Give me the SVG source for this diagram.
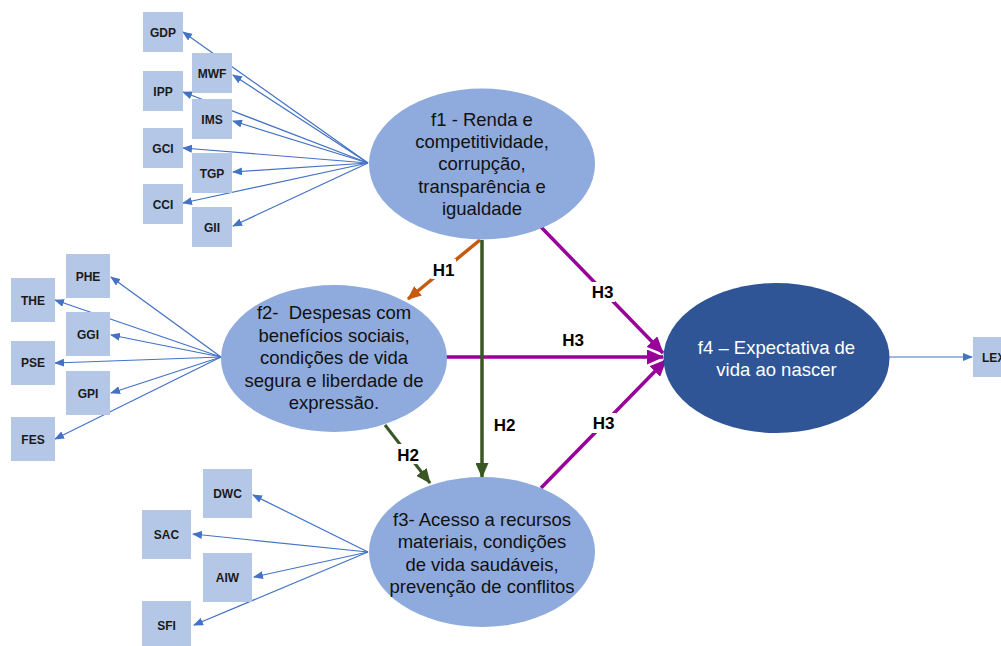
<svg xmlns="http://www.w3.org/2000/svg" width="1001" height="646" viewBox="0 0 1001 646">
  <style>
    .ind rect { fill: #B4C7E7; }
    .ind text { font-family: "Liberation Sans", Arial, sans-serif; font-size: 12px; font-weight: bold; fill: #1a1a1a; text-anchor: middle; }
    .lat ellipse { fill: #8FAADC; }
    .lat text { font-family: "Liberation Sans", Arial, sans-serif; font-size: 18.5px; fill: #111; text-anchor: middle; }
    #f4 ellipse { fill: #2F5597; }
    #f4 text { fill: #ffffff; }
    .load { stroke: #4472C4; stroke-width: 1.2; fill: none; marker-end: url(#ab); }
    .hyp { font-family: "Liberation Sans", Arial, sans-serif; font-size: 17px; font-weight: bold; fill: #000; text-anchor: middle; }
    .lbg { fill: #ffffff; }
  </style>
  <defs>
    <marker id="ab" markerUnits="userSpaceOnUse" markerWidth="10" markerHeight="8" refX="9" refY="4" orient="auto">
      <path d="M0,0 L10,4 L0,8 Z" fill="#4472C4"/>
    </marker>
    <marker id="ao" markerUnits="userSpaceOnUse" markerWidth="14" markerHeight="12" refX="13" refY="6" orient="auto">
      <path d="M0,0 L14,6 L0,12 Z" fill="#C55A11"/>
    </marker>
    <marker id="ag" markerUnits="userSpaceOnUse" markerWidth="15" markerHeight="13" refX="14" refY="6.5" orient="auto">
      <path d="M0,0 L15,6.5 L0,13 Z" fill="#385723"/>
    </marker>
    <marker id="am" markerUnits="userSpaceOnUse" markerWidth="17" markerHeight="15" refX="16" refY="7.5" orient="auto">
      <path d="M0,0 L17,7.5 L0,15 Z" fill="#990099"/>
    </marker>
  </defs>

  <!-- connectors -->
  <g id="connectors">
    <!-- f1 indicators -->
    <line class="load" x1="368" y1="163" x2="183" y2="32"/>
    <line class="load" x1="368" y1="163" x2="233" y2="75"/>
    <line class="load" x1="368" y1="163" x2="183" y2="92"/>
    <line class="load" x1="368" y1="163" x2="233" y2="121"/>
    <line class="load" x1="368" y1="163" x2="183" y2="148"/>
    <line class="load" x1="368" y1="163" x2="233" y2="172"/>
    <line class="load" x1="368" y1="163" x2="183" y2="203"/>
    <line class="load" x1="368" y1="163" x2="233" y2="226"/>
    <!-- f2 indicators -->
    <line class="load" x1="221" y1="357" x2="111" y2="277"/>
    <line class="load" x1="221" y1="357" x2="55" y2="300"/>
    <line class="load" x1="221" y1="357" x2="111" y2="335"/>
    <line class="load" x1="221" y1="357" x2="55" y2="363"/>
    <line class="load" x1="221" y1="357" x2="111" y2="393"/>
    <line class="load" x1="221" y1="357" x2="55" y2="439"/>
    <!-- f3 indicators -->
    <line class="load" x1="368" y1="552" x2="253" y2="495"/>
    <line class="load" x1="368" y1="552" x2="193" y2="534"/>
    <line class="load" x1="368" y1="552" x2="254" y2="577"/>
    <line class="load" x1="368" y1="552" x2="194" y2="625"/>
    <!-- f4 indicator -->
    <line class="load" x1="889" y1="357" x2="972" y2="357"/>

    <!-- structural paths -->
    <line x1="541" y1="227" x2="663" y2="353" stroke="#990099" stroke-width="3.5" marker-end="url(#am)"/>
    <line x1="446" y1="357" x2="663" y2="357" stroke="#990099" stroke-width="3.5" marker-end="url(#am)"/>
    <line x1="541" y1="488" x2="666" y2="360" stroke="#990099" stroke-width="3.5" marker-end="url(#am)"/>
    <line x1="480" y1="240" x2="408" y2="299" stroke="#C55A11" stroke-width="3.5" marker-end="url(#ao)"/>
    <line x1="482" y1="240" x2="482" y2="477" stroke="#385723" stroke-width="3.5" marker-end="url(#ag)"/>
    <line x1="385" y1="425" x2="430" y2="483" stroke="#385723" stroke-width="3" marker-end="url(#ag)"/>

    <!-- path labels -->
    <rect class="lbg" x="431" y="259" width="25" height="20"/>
    <text class="hyp" x="443.5" y="275.5">H1</text>
    <rect class="lbg" x="396" y="444" width="25" height="20"/>
    <text class="hyp" x="408" y="460.5">H2</text>
    <text class="hyp" x="504.5" y="430.5">H2</text>
    <rect class="lbg" x="590" y="282" width="25" height="20"/>
    <text class="hyp" x="602.5" y="298">H3</text>
    <text class="hyp" x="573" y="346">H3</text>
    <rect class="lbg" x="591" y="413" width="25" height="20"/>
    <text class="hyp" x="603.5" y="429">H3</text>
  </g>

  <!-- latent factors -->
  <g id="f1" class="lat">
    <ellipse cx="482" cy="164" rx="113" ry="75.5"/>
    <text x="482" y="125.5">f1 - Renda e</text>
    <text x="482" y="147.5">competitividade,</text>
    <text x="482" y="170">corrupção,</text>
    <text x="482" y="192.5">transparência e</text>
    <text x="482" y="214.5">igualdade</text>
  </g>
  <g id="f2" class="lat">
    <ellipse cx="334" cy="358.5" rx="113" ry="73.5"/>
    <text x="334" y="319" xml:space="preserve">f2-  Despesas com</text>
    <text x="334" y="341.5">benefícios sociais,</text>
    <text x="334" y="364">condições de vida</text>
    <text x="334" y="386.5">segura e liberdade de</text>
    <text x="334" y="408.5">expressão.</text>
  </g>
  <g id="f3" class="lat">
    <ellipse cx="482" cy="552" rx="113" ry="75"/>
    <text x="482" y="525.5">f3- Acesso a recursos</text>
    <text x="482" y="548">materiais, condições</text>
    <text x="482" y="570.5">de vida saudáveis,</text>
    <text x="482" y="593">prevenção de conflitos</text>
  </g>
  <g id="f4" class="lat">
    <ellipse cx="776.5" cy="358" rx="113" ry="75"/>
    <text x="776.5" y="353.5">f4 – Expectativa de</text>
    <text x="776.5" y="375.5">vida ao nascer</text>
  </g>

  <!-- f1 indicators -->
  <g id="GDP" class="ind"><rect x="143" y="12" width="40" height="40"/><text x="163" y="36.5">GDP</text></g>
  <g id="MWF" class="ind"><rect x="192" y="53" width="40" height="40"/><text x="212" y="77.5">MWF</text></g>
  <g id="IPP" class="ind"><rect x="143" y="71" width="40" height="40"/><text x="163" y="95.5">IPP</text></g>
  <g id="IMS" class="ind"><rect x="192" y="99" width="40" height="40"/><text x="212" y="123.5">IMS</text></g>
  <g id="GCI" class="ind"><rect x="143" y="128" width="40" height="40"/><text x="163" y="152.5">GCI</text></g>
  <g id="TGP" class="ind"><rect x="192" y="153" width="40" height="40"/><text x="212" y="177.5">TGP</text></g>
  <g id="CCI" class="ind"><rect x="143" y="184" width="40" height="40"/><text x="163" y="208.5">CCI</text></g>
  <g id="GII" class="ind"><rect x="192" y="207" width="40" height="40"/><text x="212" y="231.5">GII</text></g>

  <!-- f2 indicators -->
  <g id="PHE" class="ind"><rect x="66" y="254" width="44" height="44"/><text x="88" y="280.5">PHE</text></g>
  <g id="THE" class="ind"><rect x="11" y="278" width="44" height="44"/><text x="33" y="304.5">THE</text></g>
  <g id="GGI" class="ind"><rect x="66" y="312" width="44" height="44"/><text x="88" y="338.5">GGI</text></g>
  <g id="PSE" class="ind"><rect x="11" y="341" width="44" height="44"/><text x="33" y="367">PSE</text></g>
  <g id="GPI" class="ind"><rect x="66" y="371" width="44" height="44"/><text x="88" y="397.5">GPI</text></g>
  <g id="FES" class="ind"><rect x="11" y="417" width="44" height="44"/><text x="33" y="443.5">FES</text></g>

  <!-- f3 indicators -->
  <g id="DWC" class="ind"><rect x="203" y="469" width="49" height="49"/><text x="227.5" y="498">DWC</text></g>
  <g id="SAC" class="ind"><rect x="142" y="510" width="49" height="49"/><text x="166.5" y="538.5">SAC</text></g>
  <g id="AIW" class="ind"><rect x="203" y="553" width="49" height="49"/><text x="227.5" y="581.5">AIW</text></g>
  <g id="SFI" class="ind"><rect x="142" y="601" width="49" height="49"/><text x="166.5" y="629.5">SFI</text></g>

  <!-- f4 indicator -->
  <g id="LEX" class="ind"><rect x="973" y="337" width="40" height="40"/><text x="982" y="361.5" style="text-anchor:start">LEX</text></g>
</svg>
